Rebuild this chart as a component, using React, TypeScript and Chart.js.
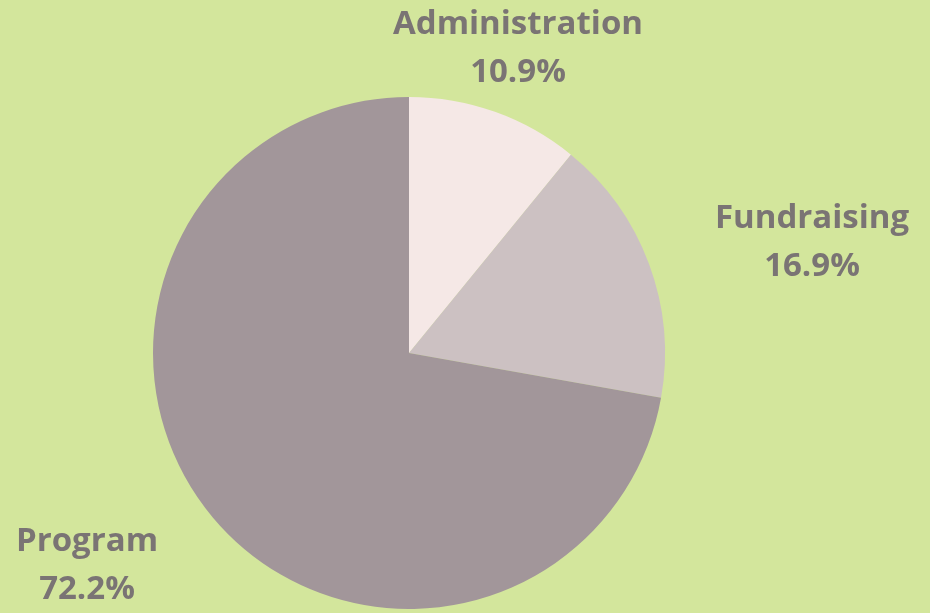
import React, { useEffect, useRef } from "react";
import { Chart, registerables } from "chart.js";

Chart.register(...registerables);

const categories = ["Administration", "Fundraising", "Program"];
const values = [10.9, 16.9, 72.2];
const valueLabels = ["10.9%", "16.9%", "72.2%"];

const sliceColors = ["#f5e8e6", "#ccc1c2", "#a2969a"];
const labelAnchors = [
  { x: 518, y: 25 },
  { x: 812, y: 219 },
  { x: 87, y: 542 },
];

const labelPlugin = {
  id: "sliceLabels",
  afterDraw(chart: any) {
    const ctx = chart.ctx;
    ctx.save();
    ctx.fillStyle = "#7a7474";
    ctx.font = "bold 33px 'Open Sans'";
    ctx.textAlign = "center";
    ctx.textBaseline = "middle";
    categories.forEach((c, i) => {
      const p = labelAnchors[i];
      ctx.fillText(c, p.x, p.y);
      ctx.fillText(valueLabels[i], p.x, p.y + 48);
    });
    ctx.restore();
  },
};

export default function App() {
  const ref = useRef<HTMLCanvasElement>(null);
  useEffect(() => {
    const chart = new Chart(ref.current!, {
      type: "pie",
      data: {
        labels: categories,
        datasets: [
          {
            data: values,
            backgroundColor: sliceColors,
            borderWidth: 0,
          },
        ],
      },
      options: {
        animation: false,
        responsive: false,
        layout: { padding: { left: 153, right: 265, top: 97, bottom: 4 } },
        plugins: { legend: { display: false }, tooltip: { enabled: false } },
      },
      plugins: [labelPlugin],
    });
    return () => chart.destroy();
  }, []);
  return (
    <div style={{ position: "fixed", left: 0, top: 0, width: 930, height: 613, background: "#d3e69c" }}>
      <canvas ref={ref} width={930} height={613} style={{ display: "block" }} />
    </div>
  );
}
